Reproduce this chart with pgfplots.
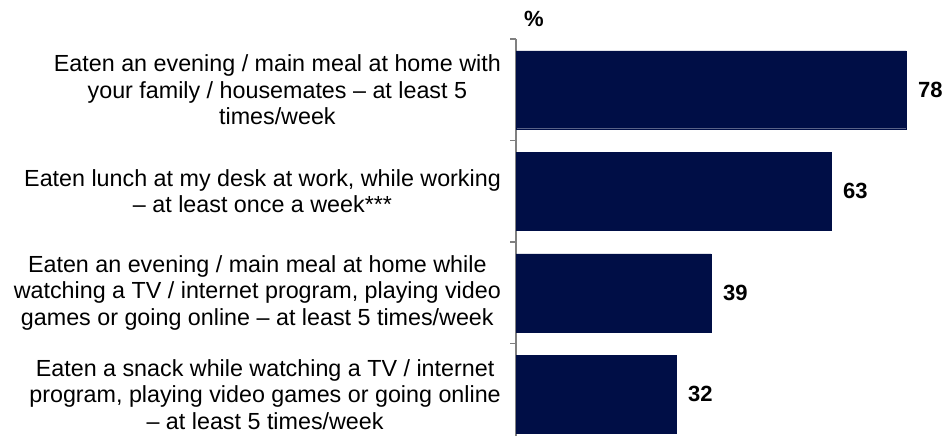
\documentclass[border=0pt]{standalone}
\usepackage{fontspec}
\setmainfont{Liberation Sans}
\usepackage{pgfplots}
\pgfplotsset{compat=1.18}
\definecolor{navy}{RGB}{0,14,70}
\definecolor{axgray}{RGB}{128,128,128}
\begin{document}
\begin{tikzpicture}[x=1pt,y=1pt]
\useasboundingbox (0,0) rectangle (944,436);
\begin{axis}[
  at={(516pt,0pt)}, anchor=south west,
  scale only axis, width=425pt, height=397pt,
  xmin=0, xmax=85, ymin=-0.41, ymax=3.5,
  axis y line=left, axis x line=none,
  axis line style={-, draw=axgray, line width=1.3pt},
  ytick={0,1,2,3},
  yticklabels={{Eaten a snack while watching a TV / internet\\program, playing video games or going online\\– at least 5 times/week},
               {Eaten an evening / main meal at home while\\watching a TV / internet program, playing video\\games or going online – at least 5 times/week},
               {Eaten lunch at my desk at work, while working\\– at least once a week***},
               {Eaten an evening / main meal at home with\\your family / housemates – at least 5\\times/week}},
  major tick length=0pt,
  minor ytick={0.5,1.5,2.5,3.5},
  minor tick length=6pt, tick align=outside,
  minor tick style={draw=axgray, line width=1.3pt},
  yticklabel style={align=center, anchor=east, inner sep=0pt, xshift=-15pt,
    font=\fontsize{23.3}{26.5}\selectfont},
  /pgf/number format/assume math mode=true,
  xbar, bar width=0.767,
  nodes near coords,
  nodes near coords style={anchor=west, inner sep=0pt, xshift=12pt,
    font=\fontsize{22}{25}\selectfont\bfseries},
  clip=false,
]
\addplot[fill=navy, draw=navy] coordinates {(32,0) (39,1) (63,2) (78,3)};
\node[font=\fontsize{22}{25}\selectfont\bfseries, anchor=south] at (rel axis cs:0,1) [xshift=18pt, yshift=9pt] {\%};
\end{axis}
\end{tikzpicture}
\end{document}
